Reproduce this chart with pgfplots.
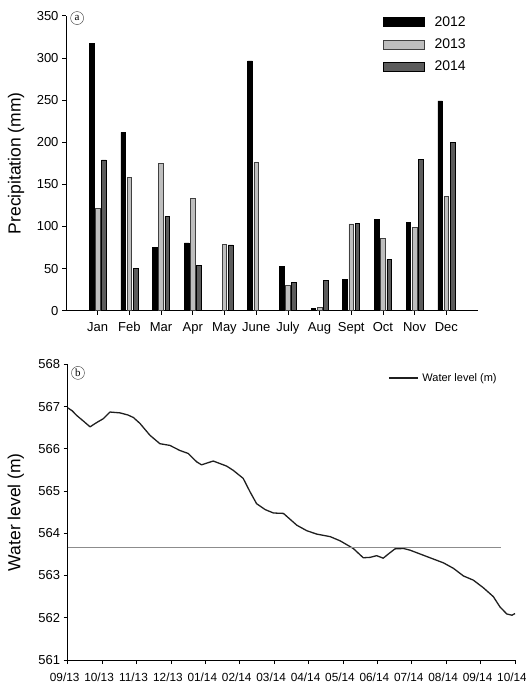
\documentclass[border=0pt]{standalone}
\usepackage{pgfplots}
\pgfplotsset{compat=1.18}
\usepackage{fontspec}
\setmainfont{Liberation Sans}
\definecolor{lightbar}{HTML}{BEBEBE}
\definecolor{darkbar}{HTML}{5C5C5C}
\begin{document}
\begin{tikzpicture}
\path[use as bounding box] (0pt,0pt) rectangle (526pt,687pt);
\pgfplotsset{
  mylegimg/.style={legend image code/.code={\draw[##1] (0pt,-4.5pt) rectangle (41pt,4.5pt);}},
}
% ---------- panel a ----------
\begin{axis}[
  at={(66pt,376.3pt)}, anchor=south west,
  scale only axis, width=412pt, height=295pt, clip=false,
  axis x line*=bottom, axis y line*=left,
  axis line style={line width=0.7pt},
  xmin=-1, xmax=12, ymin=0, ymax=350,
  ytick={0,50,...,350},
  xtick={0,...,11},
  xticklabels={Jan,Feb,Mar,Apr,May,June,July,Aug,Sept,Oct,Nov,Dec},
  tick align=outside, major tick length=4pt,
  tick style={black, line width=0.6pt},
  ticklabel style={font=\fontsize{13}{13}\selectfont},
  xticklabel style={yshift=-4pt},
  /pgf/number format/assume math mode=true,
  ylabel={Precipitation (mm)},
  ylabel style={font=\fontsize{17.5}{17.5}\selectfont, at={(axis description cs:-0.121,0.5)}, anchor=center},
  ybar=1.6pt, bar width=4.6pt,
  legend style={at={(0.769,1.005)}, anchor=north west, draw=none, fill=none,
    font=\fontsize{14}{14}\selectfont, row sep=7pt, inner sep=0pt,
    /tikz/every odd column/.append style={column sep=8pt}},
  legend cell align=left,
]
\addplot[fill=black, draw=black, line width=0.5pt, mylegimg] coordinates {
(0,317) (1,211.5) (2,75) (3,80.5) (4,0) (5,296.5) (6,53) (7,3) (8,37.5) (9,108) (10,105) (11,249)};
\addplot[fill=lightbar, draw=black!75, line width=0.6pt, mylegimg] coordinates {
(0,121) (1,158.5) (2,175) (3,133) (4,79) (5,176) (6,30) (7,4) (8,103) (9,86) (10,99) (11,136)};
\addplot[fill=darkbar, draw=black, line width=0.6pt, mylegimg] coordinates {
(0,179) (1,50) (2,112) (3,54) (4,78) (5,0) (6,34) (7,36) (8,104) (9,61) (10,179.5) (11,200)};
\legend{2012,2013,2014}
\node[circle, draw=black!70, line width=0.45pt, inner sep=0pt, minimum size=13pt, font=\fontsize{11}{11}\selectfont\fontspec{Liberation Serif}] at (rel axis cs:0.027,0.992) {a};
\end{axis}
% ---------- panel b ----------
\begin{axis}[
  at={(67.7pt,27pt)}, anchor=south west,
  scale only axis, width=447.3pt, height=295.7pt, clip=false,
  axis x line*=bottom, axis y line*=left,
  axis line style={line width=0.7pt},
  xmin=0, xmax=13, ymin=561, ymax=568,
  ytick={561,...,568},
  xtick={0,...,13},
  xticklabels={09/13,10/13,11/13,12/13,01/14,02/14,03/14,04/14,05/14,06/14,07/14,08/14,09/14,10/14},
  tick align=outside, major tick length=4pt,
  tick style={black, line width=0.6pt},
  yticklabel style={font=\fontsize{13}{13}\selectfont},
  xticklabel style={font=\fontsize{11.8}{11.8}\selectfont, xshift=-3pt, yshift=-5pt},
  /pgf/number format/assume math mode=true,
  ylabel={Water level (m)},
  ylabel style={font=\fontsize{17.5}{17.5}\selectfont, at={(axis description cs:-0.116,0.5)}, anchor=center},
  legend style={at={(0.716,0.977)}, anchor=north west, draw=none, fill=none,
    font=\fontsize{11}{11}\selectfont, inner sep=0pt,
    /tikz/every odd column/.append style={column sep=2pt}},
  legend image code/.code={\draw[#1] (0pt,0pt) -- (29pt,0pt);},
]
\addplot[color=black!88, line width=1.3pt, line join=round] coordinates {
(0,566.97) (0.13,566.90) (0.26,566.79) (0.45,566.66) (0.65,566.52) (0.84,566.62) (1.03,566.71) (1.23,566.87)
(1.52,566.85) (1.75,566.80) (1.91,566.74) (2.1,566.6) (2.39,566.32) (2.68,566.12) (2.97,566.08)
(3.26,565.96) (3.5,565.89) (3.75,565.69) (3.89,565.62) (4.04,565.66) (4.23,565.71)
(4.62,565.59) (4.81,565.49) (5.10,565.30) (5.30,564.98) (5.49,564.70) (5.74,564.56)
(5.98,564.48) (6.27,564.47) (6.66,564.19) (6.95,564.06) (7.24,563.98) (7.63,563.92)
(7.92,563.82) (8.30,563.64) (8.59,563.42) (8.79,563.43) (8.98,563.47) (9.17,563.41)
(9.32,563.51) (9.51,563.63) (9.76,563.64) (9.95,563.60) (10.24,563.51) (10.53,563.42)
(10.92,563.30) (11.21,563.17) (11.50,562.99) (11.79,562.89) (12.08,562.71) (12.37,562.50)
(12.56,562.26) (12.76,562.09) (12.91,562.06) (13.0,562.10)};
\addlegendentry{Water level (m)}
\addplot[forget plot, color=black!45, line width=0.7pt] coordinates {(0,563.66) (12.6,563.66)};
\node[circle, draw=black!70, line width=0.45pt, inner sep=0pt, minimum size=13pt, font=\fontsize{11}{11}\selectfont\fontspec{Liberation Serif}] at (rel axis cs:0.023,0.971) {b};
\end{axis}
\end{tikzpicture}
\end{document}
